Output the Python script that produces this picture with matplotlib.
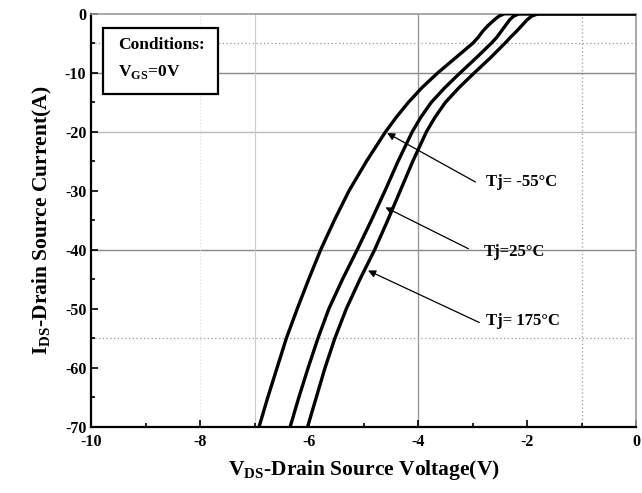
import matplotlib.pyplot as plt
from matplotlib.patches import Rectangle
from matplotlib.ticker import MultipleLocator

plt.rcParams['font.family'] = ['Liberation Serif', 'DejaVu Serif']
plt.rcParams['font.weight'] = 'bold'
plt.rcParams['axes.unicode_minus'] = False
plt.rcParams['mathtext.fontset'] = 'custom'
plt.rcParams['mathtext.rm'] = 'Liberation Serif:bold'
plt.rcParams['mathtext.bf'] = 'Liberation Serif:bold'

# curves (V_DS in V, I_DS in A)
i_pts = [-70, -65, -60, -55, -50, -45, -40, -35, -30, -25, -20, -17.5, -15, -12.5,
         -10, -7.5, -5, -4, -3, -2, -1, -0.4, 0]

v_m55 = [-6.92, -6.76, -6.59, -6.42, -6.22, -6.01, -5.79, -5.54, -5.27, -4.95, -4.60,
         -4.40, -4.18, -3.93, -3.64, -3.32, -3.00, -2.90, -2.82, -2.72, -2.60, -2.52, -2.42]
v_25 = [-6.35, -6.19, -6.02, -5.84, -5.64, -5.39, -5.12, -4.86, -4.61, -4.37, -4.11,
        -3.95, -3.76, -3.51, -3.23, -2.94, -2.66, -2.56, -2.48, -2.40, -2.32, -2.25, -2.15]
v_175 = [-6.03, -5.87, -5.71, -5.53, -5.32, -5.07, -4.80, -4.56, -4.33, -4.10, -3.85,
         -3.69, -3.50, -3.25, -2.97, -2.68, -2.41, -2.31, -2.20, -2.10, -2.00, -1.92, -1.80]
v_flat_end = 0.0

labels = ['Tj= -55\u00b0C', 'Tj=25\u00b0C', 'Tj= 175\u00b0C']
arrow_tips = [(-4.57, -20.2), (-4.60, -32.8), (-4.92, -43.5)]
arrow_tails = [(-2.95, -28.5), (-3.08, -39.8), (-2.88, -52.3)]
text_pos = [(-2.75, -28.5), (-2.80, -40.3), (-2.75, -52.0)]

x_ticks = [-10, -8, -6, -4, -2, 0]
y_ticks = [0, -10, -20, -30, -40, -50, -60, -70]

fig = plt.figure(figsize=(6.42, 4.93), dpi=100)
ax = fig.add_axes([0.142, 0.134, 0.849, 0.838])

# grid of the scanned datasheet: a few solid and dotted lines
for y in [-10, -40]:
    ax.axhline(y, color='#888888', lw=1.0, zorder=1)
ax.axhline(-20, color='#bbbbbb', lw=1.0, zorder=1)
for y in [-5, -55]:
    ax.axhline(y, color='#999999', lw=0.9, ls=(0, (1, 2)), zorder=1)
ax.axvline(-4, color='#999999', lw=1.0, zorder=1)
ax.axvline(-7, color='#cccccc', lw=0.8, zorder=1)
ax.axvline(-8, color='#dddddd', lw=0.8, ls=(0, (1, 2)), zorder=1)
ax.axvline(-1, color='#999999', lw=0.9, ls=(0, (1, 2)), zorder=1)

for v in [v_m55, v_25, v_175]:
    ax.plot(v + [v_flat_end], i_pts + [0], color='black', lw=2.4,
            solid_joinstyle='round', solid_capstyle='round', zorder=3)

for lab, tip, tail, pos in zip(labels, arrow_tips, arrow_tails, text_pos):
    ax.annotate('', xy=tip, xytext=tail,
                arrowprops=dict(arrowstyle='-|>', color='black', lw=0.9,
                                mutation_scale=11, shrinkA=0, shrinkB=0))
    ax.text(pos[0], pos[1], lab, fontsize=12, fontweight='bold',
            va='center', ha='left')

ax.set_xlim(-10, 0)
ax.set_ylim(-70, 0)
ax.set_xticks(x_ticks)
ax.set_yticks(y_ticks)
ax.xaxis.set_minor_locator(MultipleLocator(1))
ax.yaxis.set_minor_locator(MultipleLocator(5))
ax.tick_params(which='both', direction='in', labelsize=11.5, width=1.2)
ax.tick_params(which='major', length=5)
ax.tick_params(which='minor', length=3)
ax.tick_params(axis='x', pad=5)
for lab in ax.get_xticklabels() + ax.get_yticklabels():
    lab.set_fontweight('bold')

for s in ['left', 'bottom']:
    ax.spines[s].set_linewidth(1.6)
    ax.spines[s].set_color('black')
for s in ['top', 'right']:
    ax.spines[s].set_linewidth(1.2)
    ax.spines[s].set_color('#999999')

ax.set_xlabel(r'V$_{\mathrm{DS}}$-Drain Source Voltage(V)', fontsize=15.5,
              fontweight='bold', labelpad=6)
ax.set_ylabel(r'I$_{\mathrm{DS}}$-Drain Source Current(A)', fontsize=15.5,
              fontweight='bold', labelpad=8)

# conditions box
ax.add_patch(Rectangle((0.022, 0.806), 0.211, 0.160, transform=ax.transAxes,
                       fc='white', ec='black', lw=1.6, zorder=4))
ax.text(0.05, 0.925, 'Conditions:', transform=ax.transAxes, fontsize=12.5,
        fontweight='bold', va='center', ha='left', zorder=5)
ax.text(0.05, 0.858, r'V$_{\mathrm{GS}}$=0V', transform=ax.transAxes, fontsize=12.5,
        fontweight='bold', va='center', ha='left', zorder=5)

fig.savefig('out.png', dpi=100)
